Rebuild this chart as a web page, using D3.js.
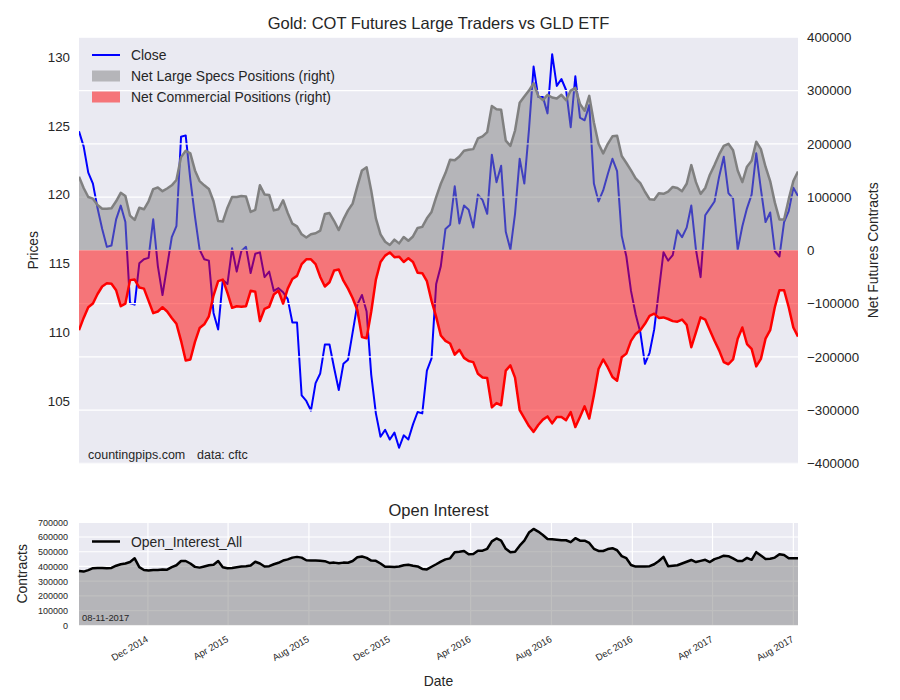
<!DOCTYPE html>
<html>
<head>
<meta charset="utf-8">
<script src="https://cdn.jsdelivr.net/npm/d3@7/dist/d3.min.js"></script>
<style>
  body { margin: 0; background: #fff; }
  text { font-family: "Liberation Sans", Arial, sans-serif; fill: #262626; }
</style>
</head>
<body>
<div id="chart"></div>
<script>
// ---------------- DATA ----------------
const startDate = "2014-08-19";   // first weekly report (Tuesday)
const weeks = 156;

const closePrices = [
124.6,123.5,121.6,120.8,119.0,117.5,116.2,116.3,118.2,119.2,
118.0,112.1,112.0,115.0,115.3,115.4,118.2,114.8,112.7,114.8,
116.9,117.7,124.2,124.3,121.1,118.4,116.0,115.3,115.2,111.4,
110.2,113.8,113.5,116.1,114.4,115.9,116.2,114.3,115.7,115.8,
114.0,114.4,113.0,113.2,112.9,112.4,110.7,110.7,105.4,105.0,
104.3,106.3,107.0,109.1,109.1,107.4,105.8,107.7,108.0,110.0,
112.0,112.7,111.5,106.9,104.1,102.4,102.9,102.2,102.7,101.6,
102.5,102.2,103.3,104.2,104.1,107.2,108.1,113.5,114.8,117.5,
117.8,120.6,117.9,119.2,118.9,117.6,120.0,119.6,118.6,122.9,
120.9,122.1,117.3,116.0,118.6,122.6,120.8,124.7,129.3,127.1,
127.1,125.9,130.2,127.9,128.4,127.6,124.9,128.6,125.6,125.4,
126.5,120.8,119.5,120.3,121.5,122.6,121.7,117.0,115.5,113.0,
111.3,110.0,107.7,108.5,110.2,113.0,115.8,115.2,115.6,117.4,
116.9,117.6,119.2,116.0,114.0,118.5,119.0,119.5,121.3,122.75,
120.1,119.7,116.0,117.7,119.0,120.0,123.0,120.4,118.0,118.7,
115.9,115.5,118.0,118.8,120.5,119.9
];

const netLargeSpecs = [
138000,117000,100000,97000,85000,78000,78000,79000,92000,108000,
102000,65000,57000,80000,77000,92000,115000,118000,111000,116000,
122000,132000,175000,187000,182000,150000,130000,122000,115000,92000,
55000,54000,80000,100000,100000,102000,101000,72000,76000,122000,
105000,104000,75000,77000,94000,70000,50000,45000,30000,24000,
30000,32000,37000,68000,70000,55000,38000,58000,75000,88000,
120000,150000,156000,112000,60000,30000,16000,10000,20000,13000,
25000,18000,26000,42000,44000,60000,72000,100000,125000,145000,
170000,169000,176000,187000,189000,190000,210000,214000,222000,271000,
265000,264000,206000,196000,225000,277000,289000,300000,314000,290000,
282000,292000,287000,285000,292000,282000,300000,305000,275000,262000,
290000,240000,200000,182000,200000,214000,215000,177000,164000,150000,
135000,126000,110000,96000,95000,107000,106000,110000,119000,117000,
111000,125000,160000,128000,106000,117000,142000,160000,180000,196000,
200000,188000,150000,128000,157000,168000,204000,190000,157000,130000,
90000,58000,58000,96000,130000,148000
];

const netCommercial = [
-150000,-127000,-107000,-100000,-82000,-68000,-62000,-63000,-75000,-105000,
-100000,-56000,-55000,-70000,-72000,-95000,-118000,-115000,-107000,-115000,
-127000,-138000,-170000,-207000,-205000,-172000,-146000,-139000,-124000,-85000,
-58000,-55000,-80000,-108000,-105000,-106000,-105000,-76000,-78000,-133000,
-110000,-106000,-83000,-76000,-100000,-72000,-54000,-48000,-26000,-17000,
-17000,-26000,-50000,-68000,-60000,-38000,-36000,-57000,-72000,-90000,
-112000,-163000,-165000,-115000,-55000,-22000,-10000,-4000,-13000,-12000,
-22000,-15000,-22000,-42000,-43000,-58000,-95000,-125000,-160000,-170000,
-175000,-196000,-187000,-202000,-208000,-210000,-232000,-239000,-240000,-295000,
-287000,-291000,-226000,-216000,-239000,-300000,-315000,-330000,-341000,-328000,
-318000,-312000,-325000,-313000,-313000,-319000,-304000,-332000,-313000,-293000,
-316000,-272000,-223000,-205000,-220000,-238000,-245000,-201000,-194000,-170000,
-157000,-150000,-138000,-123000,-119000,-127000,-126000,-129000,-133000,-134000,
-130000,-140000,-182000,-154000,-126000,-130000,-150000,-170000,-188000,-210000,
-214000,-205000,-166000,-145000,-176000,-185000,-218000,-204000,-166000,-150000,
-107000,-75000,-75000,-107000,-145000,-162000
];

const openInterest = [
369000,365000,375000,388000,390000,390000,388000,390000,405000,415000,
420000,430000,455000,395000,376000,372000,376000,376000,380000,378000,
395000,408000,437000,437000,420000,397000,392000,400000,408000,412000,
437000,395000,388000,390000,395000,399000,402000,406000,432000,420000,
400000,402000,415000,425000,440000,448000,460000,465000,460000,442000,
440000,440000,438000,436000,424000,426000,422000,426000,425000,437000,
462000,468000,458000,440000,438000,420000,398000,398000,397000,400000,
408000,412000,405000,400000,383000,380000,398000,415000,433000,448000,
455000,497000,500000,505000,483000,485000,507000,507000,520000,570000,
590000,575000,520000,497000,500000,541000,575000,630000,655000,637000,
614000,587000,585000,582000,578000,578000,565000,592000,575000,575000,
560000,520000,505000,505000,518000,524000,510000,470000,456000,410000,
399000,400000,400000,402000,415000,437000,465000,402000,405000,408000,
420000,432000,444000,430000,438000,445000,430000,450000,460000,473000,
470000,455000,437000,437000,458000,445000,497000,475000,451000,452000,
460000,483000,478000,456000,456000,456000
];

const leftTicks = [105, 110, 115, 120, 125, 130];
const rightTicks = [-400000, -300000, -200000, -100000, 0, 100000, 200000, 300000, 400000];
const oiTicks = [0, 100000, 200000, 300000, 400000, 500000, 600000, 700000];
const xTickDates = ["2014-12-01","2015-04-01","2015-08-01","2015-12-01","2016-04-01","2016-08-01","2016-12-01","2017-04-01","2017-08-01"];

const titleMain = "Gold: COT Futures Large Traders vs GLD ETF";
const titleOI = "Open Interest";
const legendTop = ["Close", "Net Large Specs Positions (right)", "Net Commercial Positions (right)"];
const legendOI = "Open_Interest_All";

// ---------------- CHART ----------------
const W = 900, H = 700;
const parse = d3.utcParse("%Y-%m-%d");
const t0 = parse(startDate);
const dates = d3.range(weeks).map(i => d3.utcDay.offset(t0, 7 * i));

const L = 79, R = 798;
const top1 = 37.3, bot1 = 463.3;
const top2 = 522.3, bot2 = 625.3;

const x = d3.scaleUtc().domain([dates[0], dates[dates.length - 1]]).range([L, R]);
const yL = d3.scaleLinear().domain([100.47, 131.43]).range([bot1, top1]);
const yR = d3.scaleLinear().domain([-400000, 400000]).range([bot1, top1]);
const yOI = d3.scaleLinear().domain([0, 700000]).range([bot2, top2]);

const svg = d3.select("#chart").append("svg").attr("width", W).attr("height", H);

svg.append("defs").append("clipPath").attr("id", "clip1")
  .append("rect").attr("x", L).attr("y", top1).attr("width", R - L).attr("height", bot1 - top1);

// ---- top panel ----
svg.append("rect").attr("x", L).attr("y", top1).attr("width", R - L).attr("height", bot1 - top1).attr("fill", "#EAEAF2");

const g1 = svg.append("g").attr("clip-path", "url(#clip1)");

// primary: close line
g1.append("path").datum(closePrices)
  .attr("fill", "none").attr("stroke", "#0000FF").attr("stroke-width", 2)
  .attr("stroke-linejoin", "round")
  .attr("d", d3.line().x((d, i) => x(dates[i])).y(d => yL(d)));

// secondary grid
g1.selectAll(".gr").data(rightTicks).join("line")
  .attr("x1", L).attr("x2", R).attr("y1", d => yR(d)).attr("y2", d => yR(d))
  .attr("stroke", "#fff").attr("stroke-width", 1.2);

// fills
g1.append("path").datum(netLargeSpecs)
  .attr("fill", "#808080").attr("fill-opacity", 0.5)
  .attr("d", d3.area().x((d, i) => x(dates[i])).y0(yR(0)).y1(d => yR(d)));
g1.append("path").datum(netCommercial)
  .attr("fill", "#FF0000").attr("fill-opacity", 0.5)
  .attr("d", d3.area().x((d, i) => x(dates[i])).y0(yR(0)).y1(d => yR(d)));

g1.append("path").datum(netLargeSpecs)
  .attr("fill", "none").attr("stroke", "#808080").attr("stroke-width", 2.5).attr("stroke-linejoin", "round")
  .attr("d", d3.line().x((d, i) => x(dates[i])).y(d => yR(d)));
g1.append("path").datum(netCommercial)
  .attr("fill", "none").attr("stroke", "#FF0000").attr("stroke-width", 2.5).attr("stroke-linejoin", "round")
  .attr("d", d3.line().x((d, i) => x(dates[i])).y(d => yR(d)));

// axes (no domain, no tick marks)
const axL = svg.append("g").attr("transform", `translate(${L},0)`)
  .call(d3.axisLeft(yL).tickValues(leftTicks).tickSize(0).tickPadding(9).tickFormat(d3.format("d")));
const axR = svg.append("g").attr("transform", `translate(${R},0)`)
  .call(d3.axisRight(yR).tickValues(rightTicks).tickSize(0).tickPadding(9)
    .tickFormat(d => d < 0 ? "\u2212" + Math.abs(d) : String(d)));
[axL, axR].forEach(a => {
  a.select(".domain").remove();
  a.selectAll("text").attr("font-size", 13.3).attr("fill", "#262626").attr("font-family", "Liberation Sans, Arial, sans-serif");
});

svg.append("text").attr("x", (L + R) / 2).attr("y", 29).attr("text-anchor", "middle")
  .attr("font-size", 16.5).text(titleMain);

svg.append("text").attr("transform", `translate(38,${(top1 + bot1) / 2}) rotate(-90)`)
  .attr("text-anchor", "middle").attr("font-size", 13.9).text("Prices");
svg.append("text").attr("transform", `translate(878,${(top1 + bot1) / 2}) rotate(-90)`)
  .attr("text-anchor", "middle").attr("font-size", 13.9).text("Net Futures Contracts");

// legend top
const lg = svg.append("g");
lg.append("line").attr("x1", 92).attr("x2", 120).attr("y1", 55).attr("y2", 55)
  .attr("stroke", "#0000FF").attr("stroke-width", 2);
lg.append("rect").attr("x", 92).attr("y", 70.5).attr("width", 28).attr("height", 11)
  .attr("fill", "#808080").attr("fill-opacity", 0.5);
lg.append("rect").attr("x", 92).attr("y", 91.5).attr("width", 28).attr("height", 11)
  .attr("fill", "#FF0000").attr("fill-opacity", 0.5);
legendTop.forEach((t, i) => {
  lg.append("text").attr("x", 131).attr("y", 60 + i * 21).attr("font-size", 13.9).text(t);
});

svg.append("text").attr("x", 88).attr("y", 459).attr("font-size", 12.5).text("countingpips.com");
svg.append("text").attr("x", 197).attr("y", 459).attr("font-size", 12.5).text("data: cftc");

// ---- bottom panel ----
svg.append("rect").attr("x", L).attr("y", top2).attr("width", R - L).attr("height", bot2 - top2).attr("fill", "#EAEAF2");
const g2 = svg.append("g");
const xt = xTickDates.map(parse);
g2.selectAll(".vg").data(xt).join("line")
  .attr("x1", d => x(d)).attr("x2", d => x(d)).attr("y1", top2).attr("y2", bot2)
  .attr("stroke", "#fff").attr("stroke-width", 1.2);
g2.selectAll(".hg").data(oiTicks).join("line")
  .attr("x1", L).attr("x2", R).attr("y1", d => yOI(d)).attr("y2", d => yOI(d))
  .attr("stroke", "#fff").attr("stroke-width", 1.2);
g2.append("path").datum(openInterest)
  .attr("fill", "#808080").attr("fill-opacity", 0.5)
  .attr("d", d3.area().x((d, i) => x(dates[i])).y0(yOI(0)).y1(d => yOI(d)));
g2.append("path").datum(openInterest)
  .attr("fill", "none").attr("stroke", "#000").attr("stroke-width", 2.5).attr("stroke-linejoin", "round")
  .attr("d", d3.line().x((d, i) => x(dates[i])).y(d => yOI(d)));

const axOI = svg.append("g").attr("transform", `translate(${L},0)`)
  .call(d3.axisLeft(yOI).tickValues(oiTicks).tickSize(0).tickPadding(11).tickFormat(d3.format("d")));
axOI.select(".domain").remove();
axOI.selectAll("text").attr("font-size", 9).attr("fill", "#262626").attr("font-family", "Liberation Sans, Arial, sans-serif");

const fmt = d3.utcFormat("%b %Y");
svg.selectAll(".xtl").data(xt).join("text")
  .attr("transform", d => `translate(${x(d) + 1},${641}) rotate(-30)`)
  .attr("text-anchor", "end").attr("font-size", 9.5).text(d => fmt(d));

svg.append("text").attr("x", (L + R) / 2).attr("y", 516).attr("text-anchor", "middle")
  .attr("font-size", 16.5).text(titleOI);
svg.append("text").attr("x", (L + R) / 2).attr("y", 686).attr("text-anchor", "middle")
  .attr("font-size", 13.9).text("Date");
svg.append("text").attr("transform", `translate(27,${(top2 + bot2) / 2}) rotate(-90)`)
  .attr("text-anchor", "middle").attr("font-size", 13.9).text("Contracts");

svg.append("line").attr("x1", 92).attr("x2", 120).attr("y1", 541.5).attr("y2", 541.5)
  .attr("stroke", "#000").attr("stroke-width", 2.5);
svg.append("text").attr("x", 131).attr("y", 546.5).attr("font-size", 13.9).text(legendOI);
svg.append("text").attr("x", 82).attr("y", 621).attr("font-size", 9.4).text("08-11-2017");
</script>
</body>
</html>
